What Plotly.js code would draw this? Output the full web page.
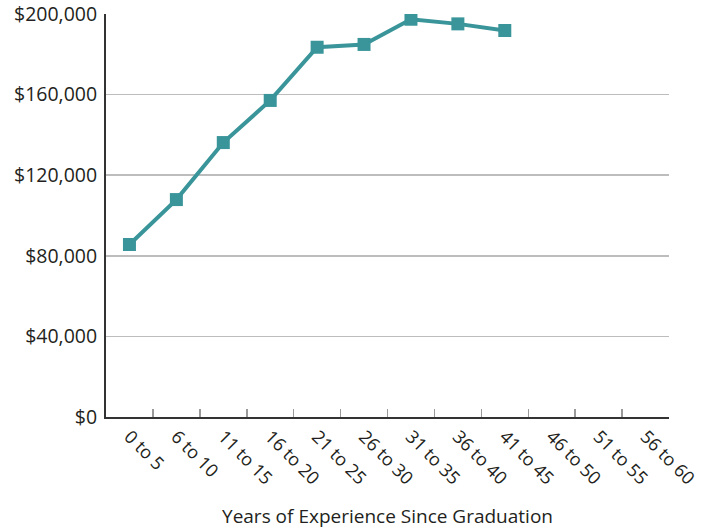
<!DOCTYPE html>
<html>
<head>
<meta charset="utf-8">
<script src="https://cdn.plot.ly/plotly-3.0.1.min.js"></script>
<style>
  html, body { margin: 0; padding: 0; background: #fff; }
  #chart { width: 714px; height: 529px; }
</style>
</head>
<body>
<div id="chart"></div>
<script>
// Experience bands (years since graduation)
const experienceBands = [
  "0 to 5", "6 to 10", "11 to 15", "16 to 20", "21 to 25", "26 to 30",
  "31 to 35", "36 to 40", "41 to 45", "46 to 50", "51 to 55", "56 to 60"
];

// Median salary per band (no data past 41 to 45)
const salaryValues = [
  85600, 107900, 136200, 157100, 183500, 184900,
  197400, 195100, 191800, null, null, null
];

// Y axis ticks
const salaryTicks = [0, 40000, 80000, 120000, 160000, 200000];
const salaryTickLabels = ["$0", "$40,000", "$80,000", "$120,000", "$160,000", "$200,000"];

const teal = "#3a959a";
const textColor = "#231f20";
const fontFamily = "Open Sans, sans-serif";

const trace = {
  type: "scatter",
  mode: "lines+markers",
  x: experienceBands,
  y: salaryValues,
  line: { color: teal, width: 4 },
  marker: { symbol: "square", size: 13, color: teal },
  connectgaps: false,
  hoverinfo: "x+y"
};

const layout = {
  width: 714,
  height: 529,
  margin: { l: 106, r: 45, t: 14, b: 112 },
  paper_bgcolor: "#ffffff",
  plot_bgcolor: "#ffffff",
  showlegend: false,
  font: { family: fontFamily, size: 18, color: textColor },
  xaxis: {
    type: "category",
    categoryorder: "array",
    categoryarray: experienceBands,
    range: [-0.5, experienceBands.length - 0.5],
    showgrid: false,
    zeroline: false,
    showline: true,
    linecolor: "#333333",
    linewidth: 2,
    ticks: "inside",
    tickson: "boundaries",
    ticklen: 8,
    tickwidth: 1.5,
    tickcolor: "#9a9a9a",
    tickangle: 45,
    tickfont: { family: fontFamily, size: 18, color: textColor },
    ticklabeloverflow: "allow",
    automargin: false,
    title: {
      text: "Years of Experience Since Graduation",
      font: { family: fontFamily, size: 19, color: textColor },
      standoff: 22
    },
    fixedrange: true
  },
  yaxis: {
    range: [0, 200000],
    tickvals: salaryTicks,
    ticktext: salaryTickLabels,
    showgrid: true,
    gridcolor: "#bdbdbd",
    gridwidth: 1.5,
    zeroline: false,
    showline: true,
    linecolor: "#333333",
    linewidth: 2,
    ticks: "",
    ticklabelstandoff: 3,
    ticklabeloverflow: "allow",
    tickfont: { family: fontFamily, size: 19.5, color: textColor },
    automargin: false,
    fixedrange: true
  }
};

Plotly.newPlot("chart", [trace], layout, { displayModeBar: false, staticPlot: true });
</script>
</body>
</html>
